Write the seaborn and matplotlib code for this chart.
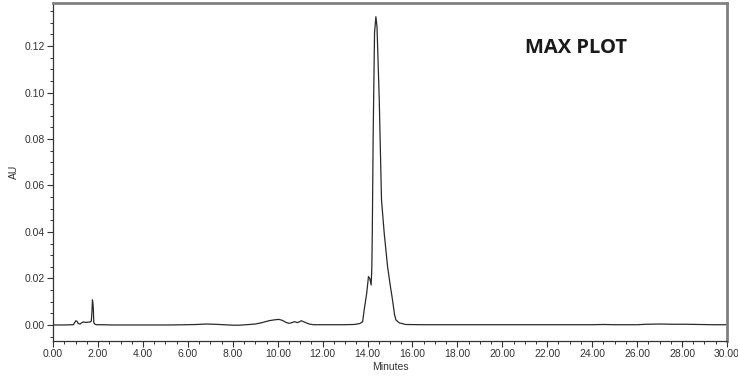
import matplotlib
matplotlib.use("Agg")
import matplotlib.pyplot as plt
from matplotlib.ticker import MultipleLocator, FormatStrFormatter
import seaborn as sns
import pandas as pd

# retention time (min) and absorbance (AU)
minutes = [0.00, 0.50, 0.90, 0.96, 1.01, 1.06, 1.12, 1.20, 1.28, 1.35, 1.45, 1.55,
           1.65, 1.70, 1.73, 1.75, 1.77, 1.79, 1.81, 1.86, 1.95, 2.10, 2.60, 3.20,
           3.90, 4.60, 5.30, 5.90, 6.40, 6.80, 7.20, 7.60, 8.00, 8.30, 8.60, 9.00,
           9.30, 9.60, 9.85, 10.05, 10.20, 10.35, 10.48, 10.60, 10.75, 10.88, 10.95,
           11.05, 11.20, 11.40, 11.60, 12.20, 12.90, 13.40, 13.65, 13.78, 13.85,
           13.96, 14.04, 14.10, 14.16, 14.19, 14.21, 14.25, 14.31, 14.37, 14.42,
           14.52, 14.62, 14.74, 14.89, 15.01, 15.11, 15.20, 15.26, 15.41, 15.70,
           16.50, 18.00, 20.00, 22.00, 24.00, 24.50, 25.00, 26.00, 26.40, 27.00,
           27.60, 28.20, 28.80, 29.40, 30.00]
au = [0.0000, 0.0000, 0.0001, 0.0010, 0.0018, 0.0016, 0.0006, 0.0004, 0.0010, 0.0013, 0.0011, 0.0012,
      0.0013, 0.0016, 0.0060, 0.0108, 0.0095, 0.0070, 0.0010, 0.0003, 0.0001, 0.0001, 0.0000, 0.0000,
      0.0000, 0.0000, 0.0000, 0.0001, 0.0002, 0.0004, 0.0003, 0.0001, -0.0001, -0.0001, 0.0001, 0.0004,
      0.0010, 0.0018, 0.0022, 0.0024, 0.0020, 0.0012, 0.0007, 0.0009, 0.0014, 0.0010, 0.0013,
      0.0018, 0.0012, 0.0004, 0.0001, 0.0001, 0.0001, 0.0002, 0.0006, 0.0014, 0.0065,
      0.0136, 0.0208, 0.0200, 0.0172, 0.0250, 0.0396, 0.0826, 0.1256, 0.1326, 0.1283,
      0.0968, 0.0538, 0.0396, 0.0251, 0.0170, 0.0108, 0.0045, 0.0022, 0.0009, 0.0002,
      0.0001, 0.0001, 0.0001, 0.0001, 0.0001, 0.0002, 0.0001, 0.0001, 0.0003, 0.0004,
      0.0003, 0.0003, 0.0002, 0.0001, 0.0001]

df = pd.DataFrame({"Minutes": minutes, "AU": au})

sns.set_style("ticks")
plt.rcParams['font.family'] = ['Liberation Sans', 'DejaVu Sans']

fig = plt.figure(figsize=(7.38, 3.77), dpi=100)
ax = fig.add_axes([0.072, 0.0955, 0.913, 0.8965])
sns.lineplot(data=df, x="Minutes", y="AU", ax=ax, color="#2a2a2a", lw=0.9)

ax.set_xlim(0, 30)
ax.set_ylim(-0.0069, 0.1385)
ax.xaxis.set_major_locator(MultipleLocator(2))
ax.xaxis.set_minor_locator(MultipleLocator(0.5))
ax.yaxis.set_major_locator(MultipleLocator(0.02))
ax.yaxis.set_minor_locator(MultipleLocator(0.005))
ax.xaxis.set_major_formatter(FormatStrFormatter('%.2f'))
ax.yaxis.set_major_formatter(FormatStrFormatter('%.2f'))
ax.tick_params(which='major', direction='out', length=4, width=0.8,
               labelsize=7.5, colors='#333333', pad=2)
ax.tick_params(which='minor', direction='out', length=2.5, width=0.7, colors='#333333')

for side in ['left', 'bottom']:
    ax.spines[side].set_color('#333333')
    ax.spines[side].set_linewidth(0.9)
for side in ['top', 'right']:
    ax.spines[side].set_visible(True)
    ax.spines[side].set_color('#808080')
    ax.spines[side].set_linewidth(2)

ax.set_xlabel('Minutes', fontsize=7.5, color='#333333', labelpad=2)
ax.set_ylabel('AU', fontsize=7.5, color='#333333', labelpad=4)

ax.text(0.776, 0.867, 'MAX PLOT', transform=ax.transAxes, ha='center', va='center',
        fontsize=14.5, fontweight='bold', family=['Open Sans', 'DejaVu Sans'], color='#1a1a1a')

fig.savefig('out.png', dpi=100)
